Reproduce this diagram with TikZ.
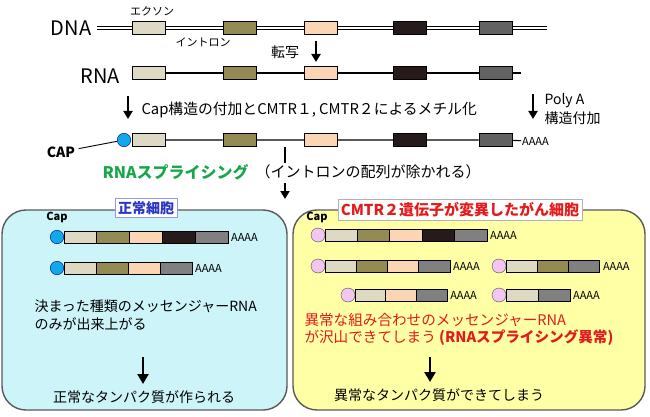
\documentclass[tikz,border=0pt]{standalone}
\usepackage{fontspec}
\setmainfont{Noto Sans CJK JP}
\usetikzlibrary{arrows.meta,positioning}

\definecolor{ex1}{HTML}{DDD9C3}
\definecolor{ex2}{HTML}{948A54}
\definecolor{ex3}{HTML}{FCD5B5}
\definecolor{ex4}{HTML}{261A1A}
\definecolor{ex5}{HTML}{808080}
\definecolor{ex5d}{HTML}{626262}
\definecolor{cellA}{HTML}{CDF4F8}
\definecolor{cellB}{HTML}{FFFFA6}
\definecolor{capblue}{HTML}{12A9E8}
\definecolor{cappink}{HTML}{F2C6F0}
\definecolor{spgreen}{HTML}{19A64B}
\definecolor{ttblue}{HTML}{2B35C8}
\definecolor{ttred}{HTML}{E31B1B}

% one spliced mRNA: name, circle x, y, number of exons, exon width, colours
\newcommand{\mrnarow}[6]{%
  \node[capdot] (#1c) at (#2,#3) {};
  \foreach \col [count=\i] in {#6}
    \node[seg,fill=\col,minimum width=#5] (#1s\i) at ({#2+7+#5*(\i-0.5)},#3) {};
  \node[aaaa] (#1a) at ({#2+7+#5*#4+2},#3) {AAAA};
}

\begin{document}
\begin{tikzpicture}[x=1pt,y=-1pt,
    exon/.style={draw, line width=1pt, minimum width=33, minimum height=13, inner sep=0},
    seg/.style={draw, line width=1pt, minimum height=12, inner sep=0, outer sep=0},
    capdot/.style={circle, draw=blue!60!black, fill=capblue, minimum size=13.5, inner sep=0},
    aaaa/.style={anchor=west, inner sep=1, font=\fontsize{11}{13}\selectfont},
    dna/.style={double, double distance=2pt, line width=0.8pt},
    rna/.style={line width=1.1pt},
    dn/.style={-{Triangle[width=9,length=8]}, line width=2.4pt},
    dnbig/.style={-{Triangle[width=11,length=10]}, line width=2.8pt},
    sm/.style={font=\fontsize{11}{13}\selectfont},
    txt/.style={font=\fontsize{14}{18}\selectfont},
    big/.style={font=\fontsize{20}{24}\selectfont},
    cell/.style={draw=black!65, line width=1.4pt, rounded corners=24, inner sep=0}]
  \useasboundingbox (0,0) rectangle (650,417);

  % DNA
  \node[big] (dnalbl) at (71,28) {DNA};
  \coordinate (dL) at (97,28);
  \coordinate (dR) at (547,28);
  \node[exon,fill=ex1] (d1) at (149,28) {};
  \node[exon,fill=ex2] (d2) at (239.5,28) {};
  \node[exon,fill=ex3] (d3) at (321,28) {};
  \node[exon,fill=ex4] (d4) at (410,28) {};
  \node[exon,fill=ex5d] (d5) at (495.5,28) {};
  \draw[dna] (dL) -- (d1) -- (d2) -- (d3) -- (d4) -- (d5) -- (dR);
  \node[sm] (exlbl) at (152,11) {エクソン};
  \node[sm] (inlbl) at (203,42) {イントロン};
  \node[txt] (tr) at (285,52) {転写};
  \coordinate (tr1) at (316,41);
  \coordinate (tr2) at (316,62);
  \draw[dn] (tr1) -- (tr2);

  % RNA
  \node[big] (rnalbl) at (100,76) {RNA};
  \coordinate (rR) at (521,73);
  \node[exon,fill=ex1] (r1) at (149,73) {};
  \node[exon,fill=ex2] (r2) at (239.5,73) {};
  \node[exon,fill=ex3] (r3) at (321,73) {};
  \node[exon,fill=ex4] (r4) at (410,73) {};
  \node[exon,fill=ex5d] (r5) at (495.5,73) {};
  \draw[rna] (r1) -- (r2) -- (r3) -- (r4) -- (r5) -- (rR);

  % capping and polyA
  \coordinate (cp1) at (128,96);
  \coordinate (cp2) at (128,119);
  \draw[dn] (cp1) -- (cp2);
  \node[anchor=west,font=\fontsize{14.8}{18}\selectfont] (captxt) at (138,110) {Cap構造の付加とCMTR１, CMTR２によるメチル化};
  \coordinate (pa1) at (533,94);
  \coordinate (pa2) at (533,119);
  \draw[dn] (pa1) -- (pa2);
  \node[txt,anchor=west] (patxt1) at (541,101) {Poly A};
  \node[txt,anchor=west] (patxt2) at (541,118) {構造付加};

  % capped pre-mRNA
  \node[capdot] (c0) at (124,140) {};
  \node[exon,fill=ex1] (m1) at (149,140) {};
  \node[exon,fill=ex2] (m2) at (239.5,140) {};
  \node[exon,fill=ex3] (m3) at (321,140) {};
  \node[exon,fill=ex4] (m4) at (410,140) {};
  \node[exon,fill=ex5d] (m5) at (495.5,140) {};
  \node[aaaa] (pa) at (521,141) {AAAA};
  \draw[rna] (m1) -- (m2) -- (m3) -- (m4) -- (m5) -- (pa);
  \node[txt] (caplbl) at (61,152) {\bfseries CAP};
  \draw[line width=0.9pt] (caplbl) -- (c0);

  % splicing
  \coordinate (sb1) at (285,147);
  \coordinate (sb2) at (285,163);
  \draw[line width=2.6pt] (sb1) -- (sb2);
  \node[anchor=west,text=spgreen,font=\fontsize{16}{19}\selectfont\bfseries] (splice) at (99,172) {RNAスプライシング};
  \node[right=0pt of splice,font=\fontsize{15}{18}\selectfont] (splnote) {（イントロンの配列が除かれる）};
  \coordinate (sa1) at (285,183);
  \coordinate (sa2) at (285,199);
  \draw[dn] (sa1) -- (sa2);

  % normal cell
  \node[cell,fill=cellA,minimum width=285,minimum height=200] (norm) at (144.5,310) {};
  \node[draw=ttblue!50,fill=white,inner sep=3,text=ttblue,font=\fontsize{14}{17}\selectfont\bfseries] (normT) at (146,208) {正常細胞};
  \node[sm] (capL) at (57,217) {\bfseries Cap};
  \mrnarow{L1}{57}{237}{5}{32.8}{ex1,ex2,ex3,ex4,ex5}
  \mrnarow{L2}{57}{268}{4}{32}{ex1,ex2,ex3,ex5}
  \node[txt,anchor=west] (nt1) at (31,306) {決まった種類のメッセンジャーRNA};
  \node[txt,anchor=west] (nt2) at (31,324) {のみが出来上がる};
  \coordinate (na1) at (143,357);
  \coordinate (na2) at (143,384);
  \draw[dnbig] (na1) -- (na2);
  \node[txt] (nres) at (144,397) {正常なタンパク質が作られる};

  % cancer cell
  \node[cell,fill=cellB,minimum width=352,minimum height=200] (canc) at (469,310) {};
  \node[draw=black!30,fill=white,inner sep=3,text=ttred,font=\fontsize{15}{18}\selectfont\bfseries] (cancT) at (460,210) {CMTR２遺伝子が変異したがん細胞};
  \node[sm] (capR) at (317,217) {\bfseries Cap};
  \begin{scope}[capdot/.style={circle, draw=black!70, fill=cappink, minimum size=14, inner sep=0}]
    \mrnarow{R1}{318}{235}{5}{32.4}{ex1,ex2,ex3,ex4,ex5}
    \mrnarow{R2}{318}{266}{4}{31.25}{ex1,ex2,ex3,ex5}
    \mrnarow{R3}{499}{266}{3}{31.3}{ex1,ex2,ex5}
    \mrnarow{R4}{348}{295}{3}{30.7}{ex1,ex3,ex5}
    \mrnarow{R5}{499}{295}{2}{32}{ex1,ex5}
  \end{scope}
  \node[anchor=west,text=ttred,font=\fontsize{14.6}{18}\selectfont] (ct1) at (301,320) {異常な組み合わせのメッセンジャーRNA};
  \node[anchor=west,text=ttred,font=\fontsize{14.6}{18}\selectfont] (ct2) at (301,338) {が沢山できてしまう \textbf{(RNAスプライシング異常)}};
  \coordinate (ca1) at (430,357);
  \coordinate (ca2) at (430,382);
  \draw[dnbig] (ca1) -- (ca2);
  \node[txt] (cres) at (439,395) {異常なタンパク質ができてしまう};
\end{tikzpicture}
\end{document}
